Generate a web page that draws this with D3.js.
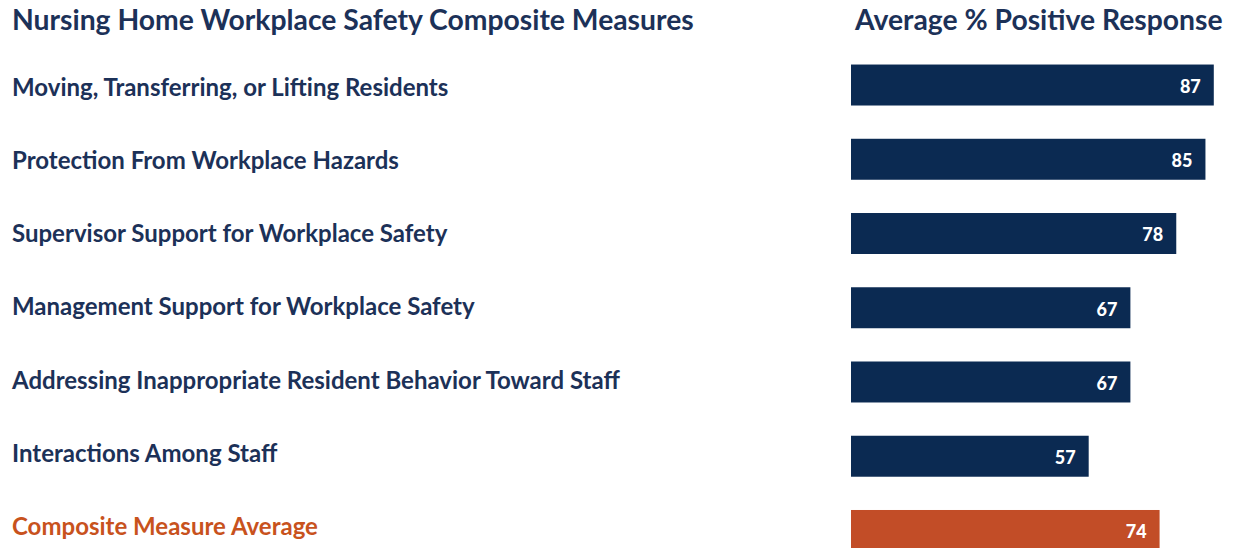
<!DOCTYPE html>
<html><head><meta charset="utf-8">
<script src="https://cdn.jsdelivr.net/npm/d3@7"></script>
<style>body{margin:0;background:#fff}svg{display:block}</style>
</head><body>
<script>
const categories = [
  "Moving, Transferring, or Lifting Residents",
  "Protection From Workplace Hazards",
  "Supervisor Support for Workplace Safety",
  "Management Support for Workplace Safety",
  "Addressing Inappropriate Resident Behavior Toward Staff",
  "Interactions Among Staff",
  "Composite Measure Average"
];
const values = [87, 85, 78, 67, 67, 57, 74];
const leftTitle = "Nursing Home Workplace Safety Composite Measures";
const rightTitle = "Average % Positive Response";

const W = 1233, H = 548;
const navy = "#0B2A52", orange = "#C24D27";
const textNavy = "#1C3158", textOrange = "#C8521D";
const font = "Lato, 'Open Sans', sans-serif";

const svg = d3.select("body").append("svg").attr("width", W).attr("height", H);

const x = d3.scaleLinear().domain([0, 100]).range([851, 1268]);
const y = d3.scaleBand().domain(categories).range([47.9, 567.6]).paddingInner(0.448).paddingOuter(0.224);
const yLabel = d3.scalePoint().domain(categories).range([95.5, 535.3]);

const isAvg = (d, i) => i === categories.length - 1;

svg.append("text").attr("x", 12).attr("y", 30)
  .attr("font-family", font).attr("font-weight", 700).attr("font-size", 28.3)
  .attr("fill", textNavy).text(leftTitle);
svg.append("text").attr("x", 855).attr("y", 30)
  .attr("font-family", font).attr("font-weight", 700).attr("font-size", 28.3)
  .attr("fill", textNavy).text(rightTitle);

svg.selectAll("text.cat").data(categories).join("text").attr("class", "cat")
  .attr("x", 12).attr("y", d => yLabel(d))
  .attr("font-family", font).attr("font-weight", 700).attr("font-size", 24)
  .attr("fill", (d, i) => isAvg(d, i) ? textOrange : textNavy).text(d => d);

svg.selectAll("rect.bar").data(values).join("rect").attr("class", "bar")
  .attr("x", x(0)).attr("y", (d, i) => y(categories[i]))
  .attr("width", d => x(d) - x(0)).attr("height", y.bandwidth())
  .attr("fill", (d, i) => isAvg(d, i) ? orange : navy);

svg.selectAll("text.val").data(values).join("text").attr("class", "val")
  .attr("x", d => x(d) - 13).attr("y", (d, i) => y(categories[i]) + y.bandwidth() / 2 + 1.5)
  .attr("dy", "0.35em").attr("text-anchor", "end")
  .attr("font-family", font).attr("font-weight", 900).attr("font-size", 18)
  .attr("fill", "#fff").text(d => d);
</script>
</body></html>
